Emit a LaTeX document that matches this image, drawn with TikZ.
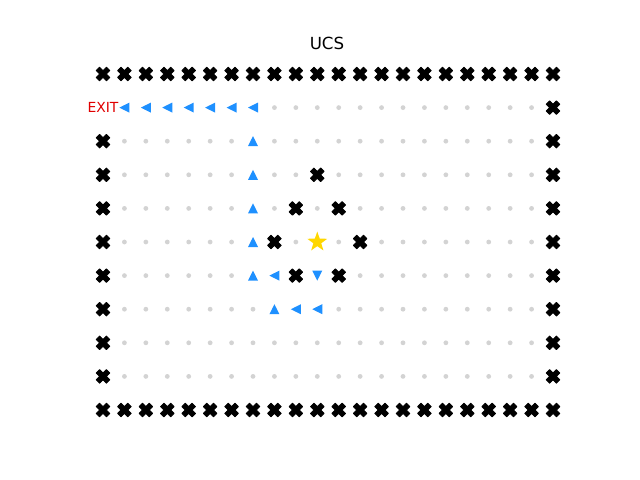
\documentclass[tikz,border=0pt]{standalone}
\usepackage{fontspec}
\setmainfont{DejaVu Sans}
\usetikzlibrary{shapes.geometric}
\definecolor{arrowblue}{HTML}{1E90FF}
\definecolor{gold}{HTML}{FFD700}
\definecolor{dotgray}{HTML}{D3D3D3}
\definecolor{exitred}{HTML}{E00000}
\tikzset{
  wallmark/.pic={\fill[black,draw=black,line width=0.6pt,line join=round,scale=3.4]
     (-1,-2)--(0,-1)--(1,-2)--(2,-1)--(1,0)--(2,1)--(1,2)--(0,1)--(-1,2)--(-2,1)--(-1,0)--(-2,-1)--cycle;},
  upmark/.pic={\fill[arrowblue] (0,-5)--(-5,5)--(5,5)--cycle;},
  downmark/.pic={\fill[arrowblue] (0,5)--(-5,-5)--(5,-5)--cycle;},
  leftmark/.pic={\fill[arrowblue] (-5,0)--(5,-5)--(5,5)--cycle;},
  gridpt/.pic={\fill[dotgray] (0,0) circle (2.4);},
}
\makeatletter
\def\skiplist{,10-3,9-4,11-4,8-5,12-5,9-6,11-6,10-5,11-5,1-1,2-1,3-1,4-1,5-1,6-1,7-1,7-2,7-3,7-4,7-5,7-6,8-6,8-7,9-7,10-7,10-6,}
\newcommand\dotunlessskip[2]{\edef\mykey{,#1-#2,}\expandafter\in@\expandafter{\mykey}{\skiplist}\ifin@\else\pic at ({103+#1*21.4286},{74+#2*33.6}) {gridpt};\fi}
\makeatother
\begin{document}
\begin{tikzpicture}[x=0.72pt,y=-0.72pt]
\useasboundingbox (0,0) rectangle (640,480);
\node[font=\fontsize{12}{14}\selectfont] (title) at (327,43) {UCS};
% grid dots
\foreach \r in {1,...,9}{\foreach \c in {1,...,20}{\dotunlessskip{\c}{\r}}}
% border walls
\foreach \c in {0,...,21}{
  \pic at ({103+\c*21.4286},74) {wallmark};
  \pic at ({103+\c*21.4286},410) {wallmark};
}
\foreach \r in {2,...,9}{\pic at (103,{74+\r*33.6}) {wallmark};}
\foreach \r in {1,...,9}{\pic at (553,{74+\r*33.6}) {wallmark};}
% interior walls
\foreach \c/\r in {10/3,9/4,11/4,8/5,12/5,9/6,11/6}{\pic at ({103+\c*21.4286},{74+\r*33.6}) {wallmark};}
% path
\foreach \c in {1,...,7}{\pic at ({103+\c*21.4286},{74+33.6}) {leftmark};}
\foreach \r in {2,...,6}{\pic at ({103+7*21.4286},{74+\r*33.6}) {upmark};}
\foreach \c/\r in {8/6,9/7,10/7}{\pic at ({103+\c*21.4286},{74+\r*33.6}) {leftmark};}
\pic at ({103+8*21.4286},{74+7*33.6}) {upmark};
\pic at ({103+10*21.4286},{74+6*33.6}) {downmark};
% start
\node[star,star points=5,star point ratio=2.5,fill=gold,inner sep=0pt,minimum size=15] (start) at ({103+10*21.4286},{74+5*33.6}) {};
% exit
\node[text=exitred,font=\fontsize{10}{12}\selectfont,inner sep=0pt] (exit) at (103,{74+33.6}) {EXIT};
\end{tikzpicture}
\end{document}
